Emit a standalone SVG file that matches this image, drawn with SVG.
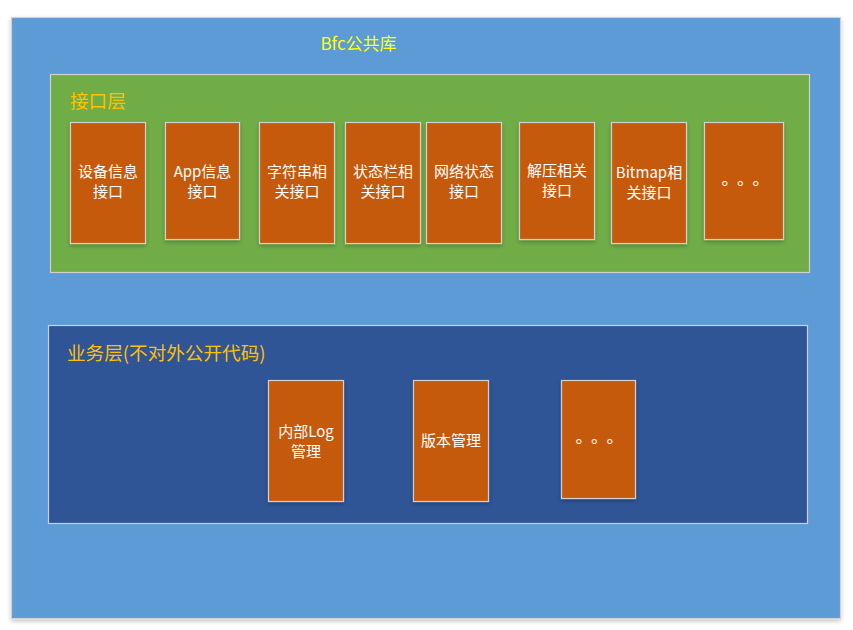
<svg xmlns="http://www.w3.org/2000/svg" width="853" height="630" viewBox="0 0 853 630">
<defs>
<filter id="sh" x="-10%" y="-10%" width="130%" height="130%">
<feDropShadow dx="0" dy="2" stdDeviation="2" flood-color="#000" flood-opacity="0.25"/>
</filter>
<style>
.box{fill:#C55A11;stroke:#D0D0D0;stroke-width:1.2;filter:url(#sh)}
.bt{fill:#FFFFFF;font-family:"Noto Sans CJK SC","Liberation Sans",sans-serif;font-size:15px;text-anchor:middle}
.dots{fill:#FFFFFF;font-family:"Noto Sans CJK SC","Liberation Sans",sans-serif;font-size:17px;text-anchor:middle}
.lt{fill:#FFC000;font-family:"Noto Sans CJK SC","Liberation Sans",sans-serif;font-size:18.6px}
</style>
</defs>
<rect width="853" height="630" fill="#FFFFFF"/>
<g id="bfc">
<rect x="11.5" y="17.5" width="829" height="601" fill="#5B9BD5" stroke="#D0D0D0" stroke-width="1.2" filter="url(#sh)"/>
<text x="358.5" y="49.5" fill="#FFFF00" font-family="'Noto Sans CJK SC','Liberation Sans',sans-serif" font-size="17" text-anchor="middle">Bfc公共库</text>
</g>
<g id="interface-layer">
<rect x="50.5" y="74.5" width="759" height="198" fill="#70AD47" stroke="#D0D0D0" stroke-width="1.2"/>
<text class="lt" x="70" y="107.5">接口层</text>
</g>
<g id="n1"><rect class="box" x="70.5" y="122.5" width="75" height="121"/><text class="bt" x="108" y="176.5">设备信息</text><text class="bt" x="108" y="196.5">接口</text></g>
<g id="n2"><rect class="box" x="165.5" y="122.5" width="74" height="117"/><text class="bt" x="202.5" y="176.5">App信息</text><text class="bt" x="202.5" y="196.5">接口</text></g>
<g id="n3"><rect class="box" x="259.5" y="122.5" width="75" height="121"/><text class="bt" x="297" y="176.5">字符串相</text><text class="bt" x="297" y="196.5">关接口</text></g>
<g id="n4"><rect class="box" x="345.5" y="122.5" width="75" height="121"/><text class="bt" x="383" y="176.5">状态栏相</text><text class="bt" x="383" y="196.5">关接口</text></g>
<g id="n5"><rect class="box" x="426.5" y="122.5" width="75" height="121"/><text class="bt" x="464" y="176.5">网络状态</text><text class="bt" x="464" y="196.5">接口</text></g>
<g id="n6"><rect class="box" x="519.5" y="122.5" width="75" height="117"/><text class="bt" x="557" y="175.5">解压相关</text><text class="bt" x="557" y="195.5">接口</text></g>
<g id="n7"><rect class="box" x="611.5" y="122.5" width="75" height="121"/><text class="bt" x="649" y="177.5">Bitmap相</text><text class="bt" x="649" y="197.5">关接口</text></g>
<g id="n8"><rect class="box" x="704.5" y="122.5" width="79" height="117"/><text class="dots" x="730 745.5 761" y="185">。。。</text></g>
<g id="business-layer">
<rect x="48.5" y="325.5" width="759" height="198" fill="#2F5597" stroke="#D0D0D0" stroke-width="1.2"/>
<text class="lt" x="67" y="359.5">业务层(不对外公开代码)</text>
</g>
<g id="m1"><rect class="box" x="268.5" y="380.5" width="75" height="121"/><text class="bt" x="306" y="436.5">内部Log</text><text class="bt" x="306" y="456.5">管理</text></g>
<g id="m2"><rect class="box" x="413.5" y="380.5" width="75" height="121"/><text class="bt" x="451" y="446">版本管理</text></g>
<g id="m3"><rect class="box" x="561.5" y="380.5" width="74" height="118"/><text class="dots" x="584 599.5 615" y="443">。。。</text></g>
<g id="connectors"/>
</svg>
